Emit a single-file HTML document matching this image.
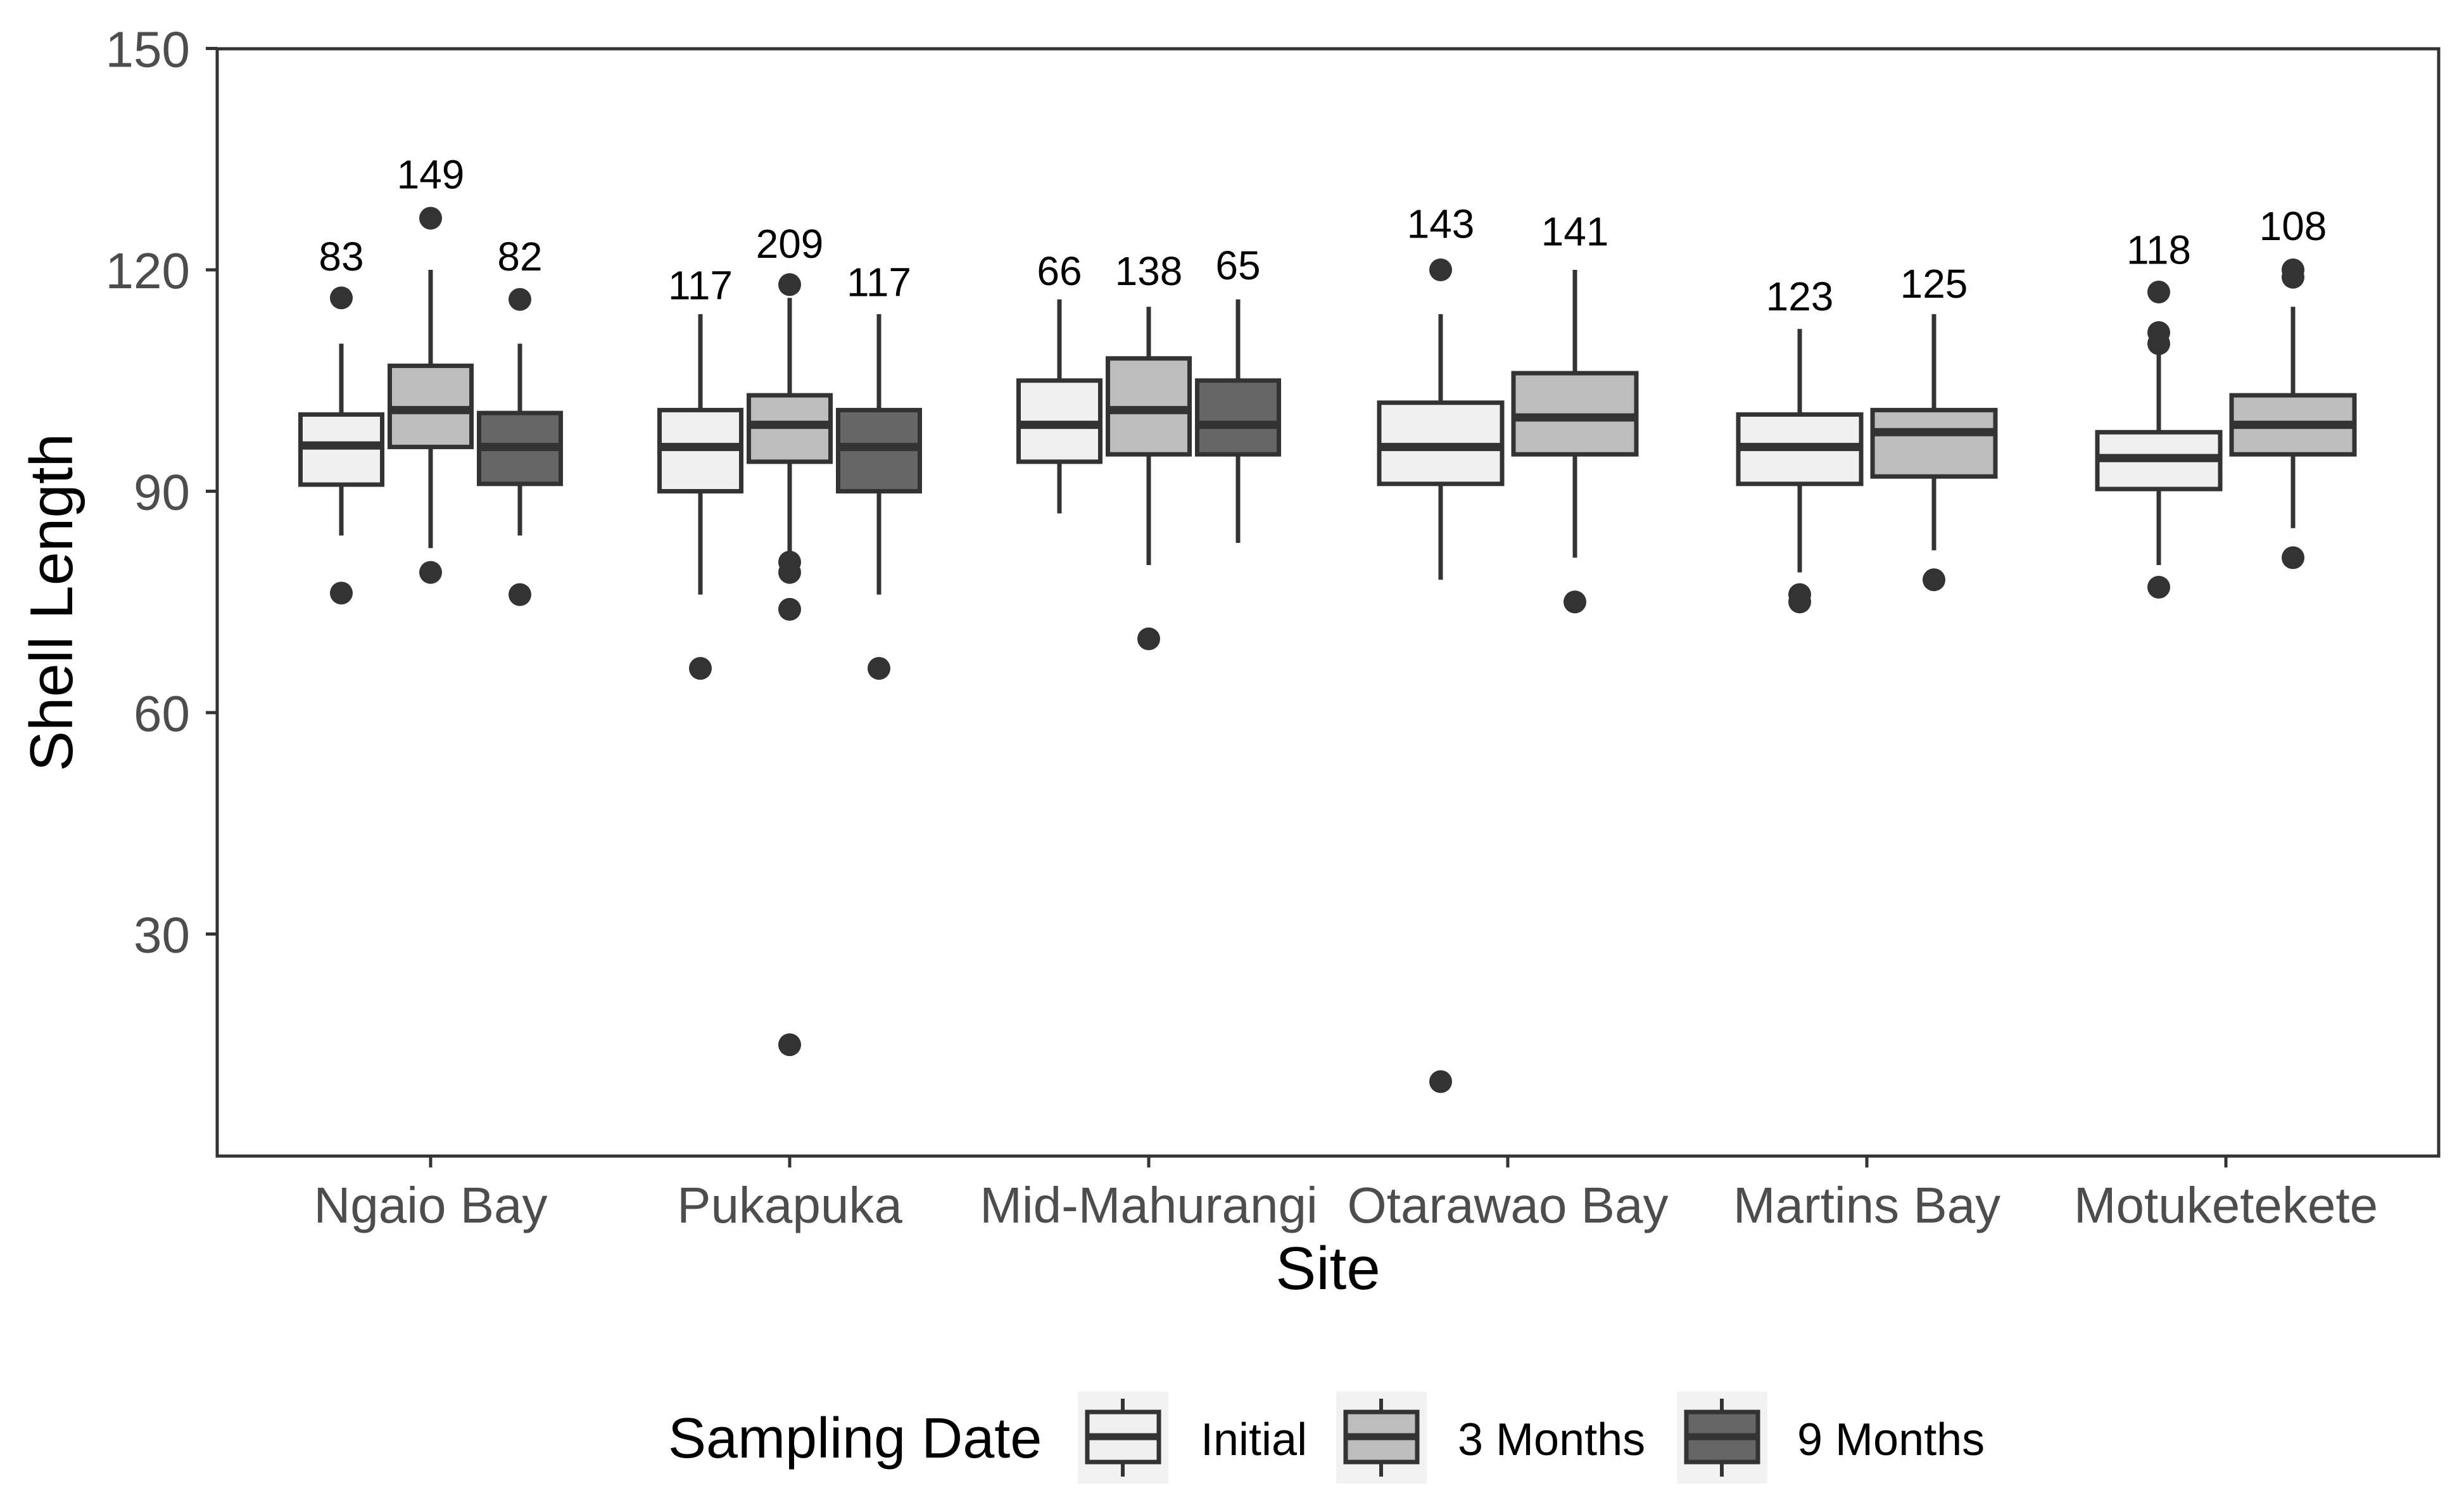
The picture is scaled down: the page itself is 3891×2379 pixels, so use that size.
<!DOCTYPE html>
<html><head><meta charset="utf-8"><style>
html,body{margin:0;padding:0;background:#fff}
svg{display:block}
text{font-family:"Liberation Sans",sans-serif}
</style></head><body>
<svg id="chart" width="3891" height="2379" viewBox="0 0 3891 2379" xmlns="http://www.w3.org/2000/svg">
<rect width="3891" height="2379" fill="#fff"/>
<g id="marks"></g>
<rect x="343" y="77" width="3508" height="1748" fill="none" stroke="#333" stroke-width="5"/>
<g id="axes"></g>
<text x="2097" y="2035" font-size="96" text-anchor="middle" fill="#000">Site</text>
<text x="0" y="0" font-size="96" text-anchor="middle" fill="#000" transform="translate(114,951) rotate(-90)">Shell Length</text>
<g>
<text x="1055" y="2301" font-size="90" fill="#000">Sampling Date</text>
<g id="legend-keys"></g>
</g>
</svg>
<script>
const sites = ["Ngaio Bay","Pukapuka","Mid-Mahurangi","Otarawao Bay","Martins Bay","Motuketekete"];
const groups = ["Initial","3 Months","9 Months"];
const fills = ["#f0f0f0","#bdbdbd","#666666"];
// per box: site index, group index
const boxSite  = [0,0,0, 1,1,1, 2,2,2, 3,3, 4,4, 5,5];
const boxGroup = [0,1,2, 0,1,2, 0,1,2, 0,1, 0,1, 0,1];
const whiskLow = [84,82.3,84, 76,81.5,76, 87,80,83, 78,81, 79,82, 80,85];
const q1       = [90.9,96,91, 90,94,90, 94,95,95, 91,95, 91,92, 90.3,95];
const median   = [96.2,101,96, 96,99,96, 99,101,99, 96,100, 96,98, 94.5,99];
const q3       = [100.4,107,100.6, 101,103,101, 105,108,105, 102,106, 100.4,101, 98,103];
const whiskHigh= [110,120,110, 114,116.2,114, 116,115,116, 114,120, 112,114, 113,115];
const outliers = [[116.2,76.2],[127,79],[116,76],[66],[118,80.4,79,74,15],[66],[],[70],[],[120,10],[75],[76,75],[78],[117,111.5,110,77],[120,119,81]];
const counts   = [83,149,82, 117,209,117, 66,138,65, 143,141, 123,125, 118,108];
const countY   = [121.9,133,121.9, 118,123.6,118.4, 119.9,119.9,120.7, 126.3,125.3, 116.5,118.2, 122.8,126];
const yTicks = [30,60,90,120,150];

const NS="http://www.w3.org/2000/svg";
const X0=680, XSTEP=567, Y0=1824, YPX=11.65;
const xScale=i=>X0+i*XSTEP;
const yScale=v=>Y0-v*YPX;
function el(tag,attrs,parent){const e=document.createElementNS(NS,tag);for(const k in attrs)e.setAttribute(k,attrs[k]);parent.appendChild(e);return e;}
const marks=document.getElementById('marks');
const axes=document.getElementById('axes');
const nPer = sites.map((s,i)=>boxSite.filter(b=>b===i).length);
for(let b=0;b<boxSite.length;b++){
  const s=boxSite[b], g=boxGroup[b], n=nPer[s];
  const slot = n===3?141:212;
  const cx = xScale(s)+(g-(n-1)/2)*slot;
  const w = n===3?129:194;
  const grp=el('g',{},marks);
  
  
  el('line',{x1:cx,x2:cx,y1:yScale(whiskHigh[b]),y2:yScale(q3[b]),stroke:'#333','stroke-width':7},grp);
  el('line',{x1:cx,x2:cx,y1:yScale(q1[b]),y2:yScale(whiskLow[b]),stroke:'#333','stroke-width':7},grp);
  el('rect',{x:cx-w/2,y:yScale(q3[b]),width:w,height:yScale(q1[b])-yScale(q3[b]),fill:fills[g],stroke:'#333','stroke-width':7},grp);
  el('line',{x1:cx-w/2,x2:cx+w/2,y1:yScale(median[b]),y2:yScale(median[b]),stroke:'#333','stroke-width':13},grp);
  outliers[b].forEach(v=>{const c=el('circle',{cx:cx,cy:yScale(v),r:18,fill:'#333'},grp);
    
    });
  const t=el('text',{x:cx,y:yScale(countY[b])+23,'font-size':64,'text-anchor':'middle',fill:'#000'},grp);
  t.textContent=counts[b];
  
  
}
yTicks.forEach(v=>{
  const y=yScale(v);
  const tk=el('line',{x1:325,x2:343,y1:y,y2:y,stroke:'#333','stroke-width':5},axes);
  
  
  const t=el('text',{x:300,y:y+29,'font-size':80,'text-anchor':'end',fill:'#4d4d4d'},axes);
  t.textContent=v;
  
  
});
sites.forEach((s,i)=>{
  const x=xScale(i);
  const tk=el('line',{x1:x,x2:x,y1:1825,y2:1843,stroke:'#333','stroke-width':5},axes);
  
  
  const t=el('text',{x:x,y:1930,'font-size':80,'text-anchor':'middle',fill:'#4d4d4d'},axes);
  t.textContent=s;
  
  
});
const lk=document.getElementById('legend-keys');
const keyX=[1702,2110,2648], textX=[1896,2302,2838];
groups.forEach((g,i)=>{
  const grp=el('g',{},lk);
  
  
  const x=keyX[i], cx=x+71;
  el('rect',{x:x,y:2197,width:143,height:145,fill:'#f2f2f2'},grp);
  el('line',{x1:cx,x2:cx,y1:2208,y2:2331,stroke:'#333','stroke-width':6},grp);
  el('rect',{x:x+15,y:2229,width:113,height:79,fill:fills[i],stroke:'#333','stroke-width':7},grp);
  el('line',{x1:x+15,x2:x+128,y1:2268,y2:2268,stroke:'#333','stroke-width':11},grp);
  const t=el('text',{x:textX[i],y:2297,'font-size':72,fill:'#000'},grp);
  t.textContent=g;
});
</script>
</body></html>
